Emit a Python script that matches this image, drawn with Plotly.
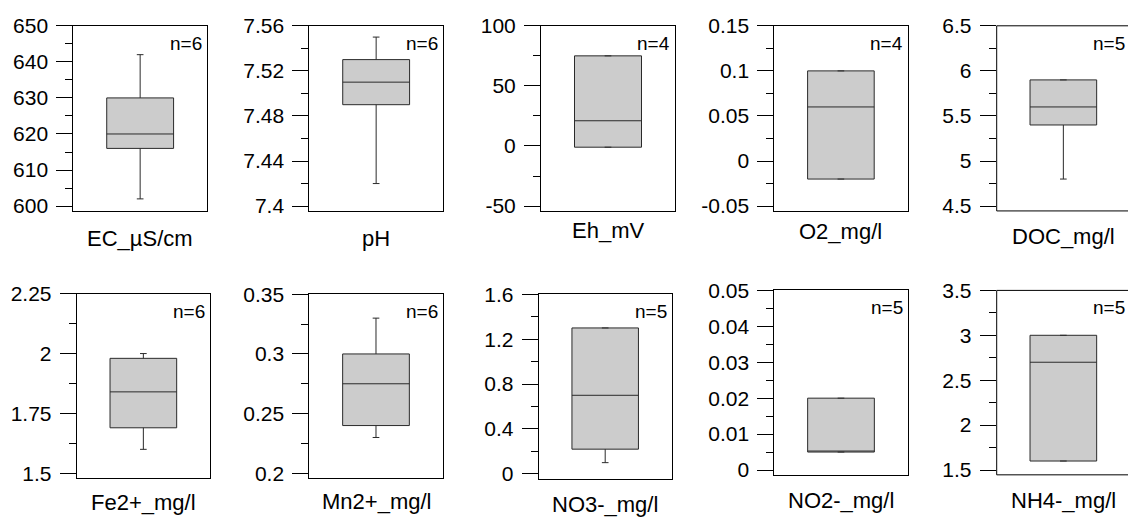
import plotly.graph_objects as go

W, H = 1128, 524

# ---------------- data ----------------
names = ["EC_µS/cm", "pH", "Eh_mV", "O2_mg/l", "DOC_mg/l",
         "Fe2+_mg/l", "Mn2+_mg/l", "NO3-_mg/l", "NO2-_mg/l", "NH4-_mg/l"]
n_counts = [6, 6, 4, 4, 5, 6, 6, 5, 5, 5]
lower = [602, 7.42, -1, -0.02, 4.8, 1.60, 0.23, 0.10, 0.005, 1.6]
q1 = [616, 7.49, -1, -0.02, 5.4, 1.69, 0.24, 0.22, 0.005, 1.6]
median = [620, 7.51, 21, 0.06, 5.6, 1.84, 0.275, 0.70, 0.005, 2.7]
q3 = [630, 7.53, 75, 0.10, 5.9, 1.98, 0.30, 1.30, 0.02, 3.0]
upper = [642, 7.55, 75, 0.10, 5.9, 2.00, 0.33, 1.30, 0.02, 3.0]

tick_vals = [
    [600, 610, 620, 630, 640, 650],
    [7.4, 7.44, 7.48, 7.52, 7.56],
    [-50, 0, 50, 100],
    [-0.05, 0, 0.05, 0.1, 0.15],
    [4.5, 5, 5.5, 6, 6.5],
    [1.5, 1.75, 2, 2.25],
    [0.2, 0.25, 0.3, 0.35],
    [0, 0.4, 0.8, 1.2, 1.6],
    [0, 0.01, 0.02, 0.03, 0.04, 0.05],
    [1.5, 2, 2.5, 3, 3.5],
]
tick_text = [
    ["600", "610", "620", "630", "640", "650"],
    ["7.4", "7.44", "7.48", "7.52", "7.56"],
    ["-50", "0", "50", "100"],
    ["-0.05", "0", "0.05", "0.1", "0.15"],
    ["4.5", "5", "5.5", "6", "6.5"],
    ["1.5", "1.75", "2", "2.25"],
    ["0.2", "0.25", "0.3", "0.35"],
    ["0", "0.4", "0.8", "1.2", "1.6"],
    ["0", "0.01", "0.02", "0.03", "0.04", "0.05"],
    ["1.5", "2", "2.5", "3", "3.5"],
]
minor_step = [5, 0.02, 25, 0.025, 0.25, 0.125, 0.025, 0.2, 0.005, 0.25]

# ---------------- layout geometry (pixels) ----------------
frames = [
    (73.3, 207.0, 14.3, 206.0),
    (309.3, 443.0, 14.3, 206.0),
    (541.0, 675.0, 14.3, 206.0),
    (774.3, 907.5, 14.3, 206.0),
    (996.7, 1130.0, 14.3, 206.0),
    (76.7, 210.0, 291.7, 482.7),
    (309.3, 442.7, 292.3, 482.7),
    (538.7, 671.7, 292.3, 483.3),
    (774.3, 907.7, 288.3, 479.3),
    (996.7, 1130.0, 288.3, 479.3),
]
title_cap_top = [226.7, 226.7, 218.3, 219.3, 224.0, 500.0, 499.3, 501.7, 497.3, 497.3]
n_cap_top = [26.0, 26.0, 26.0, 26.0, 26.0, 303.3, 303.3, 303.3, 299.3, 299.3]

FONT = "Liberation Sans, Arial, Helvetica, sans-serif"
TICK_SIZE = 21
TITLE_SIZE = 22
N_SIZE = 19
PAD_PX = 5

fig = go.Figure()
annotations = []
shapes = []
layout = {}

for i in range(10):
    k = "" if i == 0 else str(i + 1)
    x0, x1, yt, yb = frames[i]
    clipped = x1 > W
    x1c = min(x1, W)
    xr = [-0.5, -0.5 + (x1c - x0) / (x1 - x0)]
    lo, hi = tick_vals[i][0], tick_vals[i][-1]
    hpx = yb - yt
    yr = [lo - (hi - lo) * PAD_PX / (hpx - PAD_PX), hi]

    fig.add_trace(go.Box(
        x=[0], q1=[q1[i]], median=[median[i]], q3=[q3[i]],
        lowerfence=[lower[i]], upperfence=[upper[i]],
        width=0.5, whiskerwidth=0.1,
        fillcolor="#cccccc",
        line=dict(color="#2a2a2a", width=1),
        boxpoints=False, hoverinfo="skip", showlegend=False,
        xaxis="x" + k, yaxis="y" + k,
    ))

    layout["xaxis" + k] = dict(
        domain=[x0 / W, x1c / W], range=xr, anchor="y" + k,
        showline=not clipped, mirror=True, linecolor="black", linewidth=1,
        ticks="", showticklabels=False, showgrid=False, zeroline=False,
        fixedrange=True,
    )
    layout["yaxis" + k] = dict(
        domain=[1 - yb / H, 1 - yt / H], range=yr, anchor="x" + k,
        showline=not clipped, mirror=True, linecolor="black", linewidth=1,
        tickmode="array", tickvals=tick_vals[i], ticktext=tick_text[i],
        ticks="outside", ticklen=16, tickwidth=1, tickcolor="black",
        ticklabelstandoff=4,
        tickfont=dict(family=FONT, size=TICK_SIZE, color="black"),
        minor=dict(tickmode="linear", tick0=lo, dtick=minor_step[i],
                   ticks="outside", ticklen=7, tickwidth=1,
                   tickcolor="black", showgrid=False),
        showgrid=False, zeroline=False, fixedrange=True,
    )

    if clipped:
        # frame cut by the right edge of the picture: left, top, bottom sides only
        for (ax, ay, bx, by) in [(x0, yt, x0, yb), (x0, yt, x1, yt), (x0, yb, x1, yb)]:
            shapes.append(dict(type="line", xref="paper", yref="paper",
                               x0=ax / W, x1=bx / W, y0=1 - ay / H, y1=1 - by / H,
                               line=dict(color="black", width=1)))

    annotations.append(dict(
        text="n=%d" % n_counts[i], xref="paper", yref="paper",
        x=(x1 - 3) / W, y=1 - (n_cap_top[i] + 0.3695 * N_SIZE) / H,
        xanchor="right", yanchor="middle",
        showarrow=False, font=dict(family=FONT, size=N_SIZE, color="black"),
    ))
    annotations.append(dict(
        text=names[i], xref="paper", yref="paper",
        x=((x0 + x1) / 2) / W,
        y=1 - (title_cap_top[i] + 0.3695 * TITLE_SIZE) / H,
        xanchor="center", yanchor="middle",
        showarrow=False, font=dict(family=FONT, size=TITLE_SIZE, color="black"),
    ))

fig.update_layout(
    width=W, height=H,
    margin=dict(l=0, r=0, t=0, b=0),
    paper_bgcolor="white", plot_bgcolor="white",
    showlegend=False,
    annotations=annotations,
    shapes=shapes,
    **layout,
)

fig.write_html("out.html", config={"displayModeBar": False})
